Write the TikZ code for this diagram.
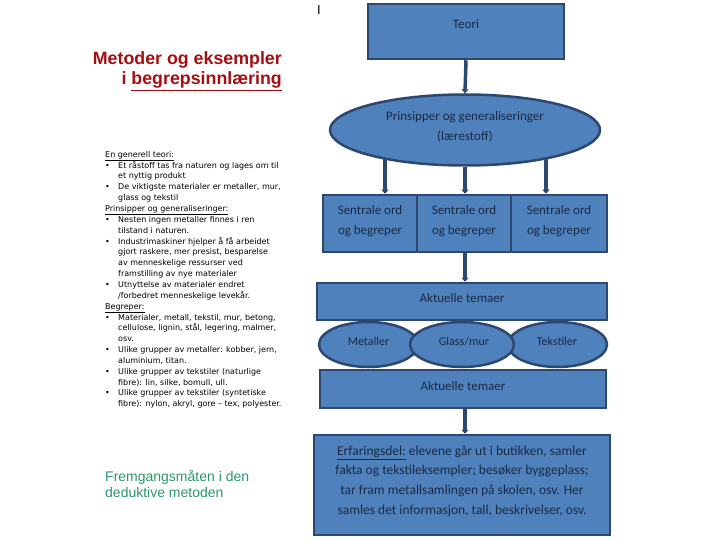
\documentclass[tikz,border=0pt]{standalone}
\usepackage{fontspec}
\setmainfont{Carlito}
\newfontfamily\arialfont{Liberation Sans}
\newfontfamily\smallfont{DejaVu Sans}
\usetikzlibrary{shapes.geometric,arrows.meta}
\definecolor{boxblue}{HTML}{4F81BD}
\definecolor{boxedge}{HTML}{2C4770}
\definecolor{boxtext}{HTML}{1A2A44}
\definecolor{titlered}{RGB}{165,15,20}
\definecolor{greentext}{RGB}{45,150,105}
\begin{document}
\begin{tikzpicture}[x=1pt,y=-1pt,
  box/.style={draw=boxedge, fill=boxblue, line width=2.5pt, inner sep=0pt},
  oval/.style={box, ellipse},
  conn/.style={draw=boxedge, line width=3.5pt, -{Triangle[length=4pt,width=7pt]}},
  txt/.style={text=boxtext, inner sep=0pt, align=center, font=\fontsize{13}{19.5}\selectfont},
  smalltxt/.style={text=boxtext, inner sep=0pt, anchor=base, font=\fontsize{12}{14}\selectfont},
  lefttxt/.style={inner sep=0pt, align=left, anchor=north west, font=\smallfont\fontsize{8}{10.85}\selectfont},
  titletxt/.style={inner sep=0pt, anchor=east, text=titlered, font=\arialfont\bfseries\fontsize{17.8}{20}\selectfont},
  greentxt/.style={inner sep=0pt, align=left, anchor=north west, text=greentext, font=\arialfont\fontsize{14}{16.5}\selectfont}
]
\useasboundingbox (0,0) rectangle (720,540);
\fill[white] (0,0) rectangle (720,540);

% cursor mark
\node[inner sep=0pt, font=\arialfont\fontsize{13}{13}\selectfont] (cursor) at (319,10) {I};

% title
\node[titletxt] (title1) at (282,60) {Metoder og eksempler};
\node[titletxt] (title2) at (282,81) {i \underline{begrepsinnlæring}};

% left text
\node[lefttxt] (body) at (105,151) {%
\underline{En generell teori:}\\
\makebox[13pt][l]{•}Et råstoff tas fra naturen og lages om til\\
\hspace*{13pt}et nyttig produkt\\
\makebox[13pt][l]{•}De viktigste materialer er metaller, mur,\\
\hspace*{13pt}glass og tekstil\\
\underline{Prinsipper og generaliseringer:}\\
\makebox[13pt][l]{•}Nesten ingen metaller finnes i ren\\
\hspace*{13pt}tilstand i naturen.\\
\makebox[13pt][l]{•}Industrimaskiner hjelper å få arbeidet\\
\hspace*{13pt}gjort raskere, mer presist, besparelse\\
\hspace*{13pt}av menneskelige ressurser ved\\
\hspace*{13pt}framstilling av nye materialer\\
\makebox[13pt][l]{•}Utnyttelse av materialer endret\\
\hspace*{13pt}/forbedret menneskelige levekår.\\
\underline{Begreper:}\\
\makebox[13pt][l]{•}Materialer, metall, tekstil, mur, betong,\\
\hspace*{13pt}cellulose, lignin, stål, legering, malmer,\\
\hspace*{13pt}osv.\\
\makebox[13pt][l]{•}Ulike grupper av metaller: kobber, jern,\\
\hspace*{13pt}aluminium, titan.\\
\makebox[13pt][l]{•}Ulike grupper av tekstiler (naturlige\\
\hspace*{13pt}fibre): lin, silke, bomull, ull.\\
\makebox[13pt][l]{•}Ulike grupper av tekstiler (syntetiske\\
\hspace*{13pt}fibre): nylon, akryl, gore – tex, polyester.};

\node[greentxt] (method) at (105,470) {Fremgangsmåten i den\\deduktive metoden};

% diagram
\node[box, minimum width=196pt, minimum height=55pt] (teori) at (466,31.5) {};
\node[txt] (teoriT) at (466,24) {Teori};

\node[oval, minimum width=270pt, minimum height=71pt] (prin) at (465,130) {};
\node[txt] (prinT) at (465,127) {Prinsipper og generaliseringer\\(lærestoff)};

\node[box, minimum width=94pt, minimum height=57pt] (s1) at (370,223.5) {};
\node[box, minimum width=94pt, minimum height=57pt] (s2) at (464,223.5) {};
\node[box, minimum width=96pt, minimum height=57pt] (s3) at (559,223.5) {};
\node[txt] (s1T) at (370,221) {Sentrale ord\\og begreper};
\node[txt] (s2T) at (464,221) {Sentrale ord\\og begreper};
\node[txt] (s3T) at (559,221) {Sentrale ord\\og begreper};

\node[box, minimum width=290pt, minimum height=37pt] (akt1) at (462,301.5) {};
\node[txt] (akt1T) at (462,298) {Aktuelle temaer};

\node[oval, minimum width=99pt, minimum height=45pt] (e1) at (368.5,344.5) {};
\node[oval, minimum width=99pt, minimum height=45pt] (e3) at (557.5,344.5) {};
\node[oval, minimum width=104pt, minimum height=45pt] (e2) at (462,344.5) {};
\node[smalltxt] (e1T) at (368.5,345) {Metaller};
\node[smalltxt] (e2T) at (464,345) {Glass/mur};
\node[smalltxt] (e3T) at (557,345) {Tekstiler};

\node[box, minimum width=286pt, minimum height=38pt] (akt2) at (463,389) {};
\node[txt] (akt2T) at (463,386) {Aktuelle temaer};

\node[box, minimum width=296pt, minimum height=100pt] (erf) at (462,485) {};
\node[txt, font=\fontsize{13.5}{19.7}\selectfont] (erfT) at (462,481) {\underline{Erfaringsdel:} elevene går ut i butikken, samler\\fakta og tekstileksempler; besøker byggeplass;\\tar fram metallsamlingen på skolen, osv. Her\\samles det informasjon, tall, beskrivelser, osv.};

% connectors
\coordinate (p1) at (385,158);
\coordinate (p3) at (546,158);
\draw[conn] (teori.south) -- (prin.north);
\draw[conn] (p1) -- (p1 |- s1.north);
\draw[conn] (prin.south) -- (prin.south |- s2.north);
\draw[conn] (p3) -- (p3 |- s3.north);
\draw[conn] (s2.south -| prin.south) -- (prin.south |- akt1.north);
\draw[conn] (akt2.south -| prin.south) -- (prin.south |- erf.north);
\end{tikzpicture}
\end{document}
